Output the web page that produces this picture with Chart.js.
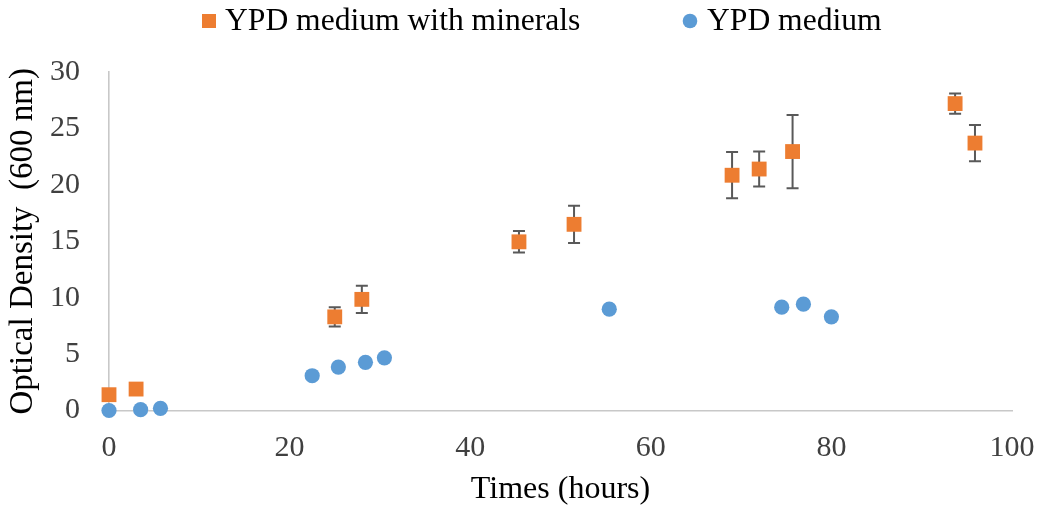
<!DOCTYPE html>
<html>
<head>
<meta charset="utf-8">
<title>Optical density over time</title>
<script src="https://cdn.jsdelivr.net/npm/chart.js@4/dist/chart.umd.min.js"></script>
<style>
  html, body { margin: 0; padding: 0; background: #ffffff; }
  #wrap { width: 1038px; height: 509px; position: relative; }
</style>
</head>
<body>
<div id="wrap"><canvas id="chart"></canvas></div>
<script>
// Growth measurements: sampling time (hours) and optical density at 600 nm
const mineralHours = [0, 3, 25, 28, 45.4, 51.5, 69, 72, 75.7, 93.7, 95.9];
const mineralOD    = [1.4, 1.9, 8.3, 9.85, 14.95, 16.5, 20.85, 21.4, 22.95, 27.2, 23.7];
const mineralErr   = [0, 0, 0.85, 1.2, 0.95, 1.65, 2.05, 1.55, 3.25, 0.9, 1.6];

const plainHours = [0, 3.5, 5.7, 22.5, 25.4, 28.4, 30.5, 55.4, 74.5, 76.9, 80.0];
const plainOD    = [0, 0.07, 0.19, 3.08, 3.85, 4.27, 4.67, 8.98, 9.16, 9.42, 8.3];

const seriesNames = ['YPD medium with minerals', 'YPD medium'];
const xTicks = [0, 20, 40, 60, 80, 100];
const yTicks = [0, 5, 10, 15, 20, 25, 30];

const ORANGE = '#ED7D31';
const BLUE = '#5B9BD5';
const SERIF = "'Liberation Serif', 'Times New Roman', serif";

const toPoints = (xs, ys) => xs.map((x, i) => ({ x: x, y: ys[i] }));

// Vertical error bars with caps, drawn under the markers
const errorBars = {
  id: 'errorBars',
  beforeDatasetsDraw(chart) {
    const ctx = chart.ctx;
    const xs = chart.scales.x, ys = chart.scales.y;
    ctx.save();
    ctx.strokeStyle = '#595959';
    ctx.lineWidth = 2;
    const cap = 6;
    mineralHours.forEach((h, i) => {
      const e = mineralErr[i];
      if (!e) return;
      const px = xs.getPixelForValue(h);
      const top = ys.getPixelForValue(mineralOD[i] + e);
      const bot = ys.getPixelForValue(mineralOD[i] - e);
      ctx.beginPath();
      ctx.moveTo(px, top); ctx.lineTo(px, bot);
      ctx.moveTo(px - cap, top); ctx.lineTo(px + cap, top);
      ctx.moveTo(px - cap, bot); ctx.lineTo(px + cap, bot);
      ctx.stroke();
    });
    ctx.restore();
  }
};

// Legend row across the top
const topLegend = {
  id: 'topLegend',
  afterDraw(chart) {
    const ctx = chart.ctx;
    const ds = chart.data.datasets;
    ctx.save();
    ctx.font = '31.6px ' + SERIF;
    ctx.textBaseline = 'alphabetic';
    ctx.fillStyle = ds[0].backgroundColor;
    ctx.fillRect(202, 14, 14, 14);
    ctx.fillStyle = '#000000';
    ctx.fillText(ds[0].label, 225, 29.5);
    ctx.fillStyle = ds[1].backgroundColor;
    ctx.beginPath();
    ctx.arc(690, 21, 7.3, 0, Math.PI * 2);
    ctx.fill();
    ctx.fillStyle = '#000000';
    ctx.fillText(ds[1].label, 707, 29.5);
    ctx.restore();
  }
};

new Chart(document.getElementById('chart'), {
  type: 'scatter',
  data: {
    datasets: [
      {
        label: seriesNames[0],
        data: toPoints(mineralHours, mineralOD),
        pointStyle: 'rect',
        pointRadius: 10.5,
        pointHoverRadius: 10.5,
        borderWidth: 0,
        backgroundColor: ORANGE,
        borderColor: ORANGE,
        clip: false,
        order: 1
      },
      {
        label: seriesNames[1],
        data: toPoints(plainHours, plainOD),
        pointStyle: 'circle',
        pointRadius: 7.6,
        pointHoverRadius: 7.6,
        borderWidth: 0,
        backgroundColor: BLUE,
        borderColor: BLUE,
        clip: false,
        order: 0
      }
    ]
  },
  options: {
    responsive: true,
    maintainAspectRatio: false,
    animation: false,
    layout: { padding: { top: 72, right: 26, left: 0, bottom: 0 } },
    plugins: {
      legend: { display: false },
      tooltip: { enabled: false }
    },
    scales: {
      x: {
        type: 'linear',
        min: 0,
        max: 100,
        afterBuildTicks: (s) => { s.ticks = xTicks.map(v => ({ value: v })); },
        afterFit: (s) => { s.height = 98.5; s.paddingLeft = 0; s.paddingRight = 0; },
        grid: { display: false, drawTicks: false },
        border: { display: true, color: '#c8c8c8', width: 1.6 },
        ticks: {
          padding: 20,
          color: '#404040',
          font: { family: SERIF, size: 30 }
        },
        title: {
          display: true,
          text: 'Times (hours)',
          color: '#000000',
          font: { family: SERIF, size: 32 },
          padding: { top: 0, bottom: 0 }
        }
      },
      y: {
        type: 'linear',
        min: 0,
        max: 30,
        afterBuildTicks: (s) => { s.ticks = yTicks.map(v => ({ value: v })); },
        afterFit: (s) => { s.width = 109; s.paddingTop = 0; s.paddingBottom = 0; },
        grid: { display: false, drawTicks: false },
        border: { display: true, color: '#c8c8c8', width: 1.6 },
        ticks: {
          padding: 29,
          color: '#404040',
          font: { family: SERIF, size: 30 }
        },
        title: {
          display: true,
          text: 'Optical Density  (600 nm)',
          color: '#000000',
          font: { family: SERIF, size: 33 },
          padding: { top: 4, bottom: 0 }
        }
      }
    }
  },
  plugins: [errorBars, topLegend]
});
</script>
</body>
</html>
